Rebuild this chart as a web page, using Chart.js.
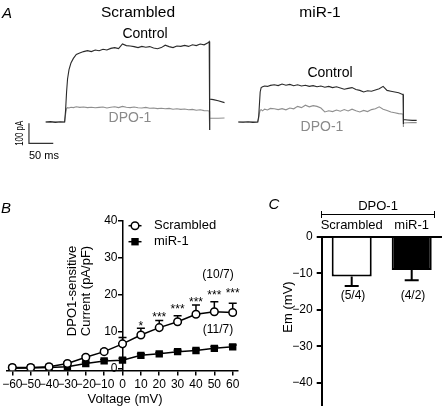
<!DOCTYPE html>
<html>
<head>
<meta charset="utf-8">
<script src="https://cdn.jsdelivr.net/npm/chart.js@4.4.1/dist/chart.umd.min.js"></script>
<style>
  body { margin: 0; background: #fff; }
  #fig { position: relative; width: 443px; height: 416px; overflow: hidden;
         font-family: "Liberation Sans", Arial, sans-serif; color: #000; }
  #fig canvas { position: absolute; }
  .t { position: absolute; white-space: nowrap; line-height: 1; transform: translate(-50%, -50%); }
  .panel { font-style: italic; font-size: 15px; }
  .gray { color: #8a8a8a; }
</style>
</head>
<body>
<div id="fig">
  <canvas id="traceScr" width="230" height="145" style="left:0;top:20px"></canvas>
  <canvas id="traceMir" width="213" height="145" style="left:230px;top:20px"></canvas>
  <canvas id="ivChart" width="250" height="221" style="left:0;top:195px"></canvas>
  <canvas id="emChart" width="188" height="231" style="left:255px;top:185px"></canvas>

  <!-- panel A text -->
  <div class="t panel" style="left:7px;top:12px">A</div>
  <div class="t" style="left:138px;top:12px;font-size:15.5px">Scrambled</div>
  <div class="t" style="left:320px;top:12px;font-size:15.5px">miR-1</div>
  <div class="t" style="left:145px;top:33px;font-size:14px">Control</div>
  <div class="t gray" style="left:130px;top:117px;font-size:14px">DPO-1</div>
  <div class="t" style="left:330px;top:72px;font-size:14px">Control</div>
  <div class="t gray" style="left:322px;top:126px;font-size:14px">DPO-1</div>

  <!-- panel B text -->
  <div class="t panel" style="left:6px;top:207px">B</div>
  <div class="t" style="left:79px;top:291px;font-size:13px;line-height:14px;text-align:center;transform:translate(-50%,-50%) rotate(-90deg)">DPO1-sensitive<br>Current (pA/pF)</div>
  <div class="t" style="left:125px;top:398px;font-size:13px">Voltage (mV)</div>
  <div class="t" style="left:218px;top:274px;font-size:12px">(10/7)</div>
  <div class="t" style="left:218px;top:329px;font-size:12px">(11/7)</div>

  <!-- panel C text -->
  <div class="t panel" style="left:274px;top:203px">C</div>
  <div class="t" style="left:378px;top:205px;font-size:13px">DPO-1</div>
  <div style="position:absolute;left:322px;top:214px;width:113px;height:0;border-top:1.5px solid #000"></div>
  <div style="position:absolute;left:321px;top:211px;width:0;height:7px;border-left:1.5px solid #000"></div>
  <div style="position:absolute;left:434px;top:211px;width:0;height:7px;border-left:1.5px solid #000"></div>
  <div class="t" style="left:287px;top:307px;font-size:13px;transform:translate(-50%,-50%) rotate(-90deg)">Em (mV)</div>
  <div class="t" style="left:353px;top:295px;font-size:12px">(5/4)</div>
  <div class="t" style="left:413px;top:295px;font-size:12px">(4/2)</div>
</div>

<script>
// ---- panel A: current traces (time in ms, current in pA) ----
const scrTime = [0, 10, 20, 30, 39, 41, 43, 45, 48, 52, 57, 63, 70, 78,
  86, 94, 102, 110, 118, 126, 134, 142, 150, 158, 166, 174, 182, 190, 198, 206,
  214, 222, 230, 238, 246, 254, 262, 270, 278, 286, 294, 302, 310, 318, 326, 334,
  336.5, 337, 338, 345, 355, 368];
const scrControl = [0, 2, -2, 1, 0, 60, 150, 215, 262, 295, 318, 338, 345, 352,
  357, 352, 360, 356, 364, 360, 368, 372, 367, 390, 382, 380, 377, 372, 378, 374,
  377, 370, 366, 372, 384, 377, 372, 380, 378, 383, 378, 386, 382, 390, 386, 396,
  402, -40, 115, 112, 106, 97];
const scrDpo = [0, -1, 1, -1, 0, 40, 68, 72, 70, 74, 72, 76, 73, 75,
  72, 74, 71, 73, 75, 70, 74, 76, 72, 78, 74, 72, 75, 71, 70, 73,
  69, 70, 67, 69, 66, 68, 64, 66, 63, 65, 61, 63, 59, 61, 57, 56,
  54, -40, 20, 19, 19, 20];

const mirTime = [0, 10, 20, 30, 40, 42, 43.5, 45, 47, 50, 54, 60, 66,
  74, 82, 90, 98, 106, 114, 122, 130, 138, 146, 154, 162, 170, 178, 186, 194, 202,
  210, 218, 226, 234, 242, 250, 258, 266, 274, 282, 290, 298, 306, 314, 322, 330, 338,
  339, 339.5, 340, 348, 358, 367];
const mirControl = [0, -1, 1, -2, 0, 30, 90, 150, 172, 176, 180, 178, 183,
  186, 182, 190, 184, 188, 181, 186, 180, 184, 178, 182, 176, 180, 174, 178, 172, 176,
  170, 164, 168, 172, 162, 158, 150, 156, 154, 160, 166, 178, 158, 154, 150, 146, 138,
  138, -10, 12, 10, 8, 8];
const mirDpo = [0, 1, -1, 1, 0, 20, 45, 58, 62, 56, 64, 60, 68,
  66, 62, 67, 61, 70, 66, 78, 72, 84, 76, 82, 78, 70, 50, 56, 52, 60,
  54, 62, 55, 64, 56, 50, 58, 52, 62, 66, 76, 64, 58, 50, 46, 42, 40,
  38, -25, -5, -4, -3, -3];

// scale bar: 50 ms x 100 pA
const barMs = 50;
const barPa = 100;
const barAt = { t: -34.4, i: -106.5 };

// ---- panel B: I-V curve ----
const voltages = [-60, -50, -40, -30, -20, -10, 0, 10, 20, 30, 40, 50, 60];
const scrambledIV = [0.3, 0.3, 0.5, 1.4, 3.1, 4.6, 6.7, 9.1, 11.1, 12.7, 14.7, 15.4, 15.2];
const scrambledSem = [0.2, 0.2, 0.2, 0.3, 0.4, 0.6, 1.7, 1.8, 1.9, 1.6, 2.5, 2.7, 2.5];
const mir1IV = [0.1, 0.2, 0.3, 0.5, 1.4, 2.1, 2.3, 3.6, 4.0, 4.6, 4.9, 5.5, 5.9];
const mir1Sem = [0.1, 0.1, 0.1, 0.2, 0.3, 0.4, 0.5, 0.4, 0.4, 0.4, 0.4, 0.5, 0.5];
const starText = ['', '', '', '', '', '', '', '*', '***', '***', '***', '***', '***'];
const starLevel = [0, 0, 0, 0, 0, 0, 0, 12.4, 14.7, 16.9, 18.8, 20.6, 21.3];
const ivTicks = [0, 10, 20, 30, 40];

// ---- panel C: membrane potential ----
const groups = ['Scrambled', 'miR-1'];
const emValues = [-10.9, -9.1];
const emSem = [2.6, 2.8];
const emTicks = [0, -10, -20, -30, -40];

Chart.defaults.font.family = '"Liberation Sans", Arial, sans-serif';
Chart.defaults.color = '#000';
Chart.defaults.animation = false;

const minus = v => String(v).replace('-', '\u2212');
const pts = (xs, ys) => xs.map((x, i) => ({ x: x, y: ys[i] }));

// trace charts have no visible axes, only the scale bar
function traceChart(id, time, control, dpo, xMin, xMax, extra) {
  return new Chart(document.getElementById(id), {
    type: 'line',
    data: {
      datasets: [
        { data: pts(time, control), borderColor: '#2a2a2a', borderWidth: 1.1 },
        { data: pts(time, dpo), borderColor: '#8f8f8f', borderWidth: 1.1 }
      ]
    },
    options: {
      responsive: false,
      layout: { padding: 0 },
      elements: { point: { radius: 0 }, line: { tension: 0 } },
      plugins: { legend: { display: false }, tooltip: { enabled: false } },
      scales: {
        x: { type: 'linear', display: false, min: xMin, max: xMax },
        y: { display: false, min: -215, max: 510 }
      }
    },
    plugins: extra ? [extra] : []
  });
}

const scaleBar = {
  id: 'scaleBar',
  afterDraw(chart) {
    const { ctx, scales: { x, y } } = chart;
    const x0 = x.getPixelForValue(barAt.t), y0 = y.getPixelForValue(barAt.i);
    const x1 = x.getPixelForValue(barAt.t + barMs), y1 = y.getPixelForValue(barAt.i + barPa);
    ctx.save();
    ctx.strokeStyle = '#333';
    ctx.lineWidth = 1.2;
    ctx.beginPath();
    ctx.moveTo(x0, y1); ctx.lineTo(x0, y0); ctx.lineTo(x1, y0);
    ctx.stroke();
    ctx.fillStyle = '#000';
    ctx.font = '11px "Liberation Sans", Arial';
    ctx.textBaseline = 'middle';
    ctx.textAlign = 'left';
    ctx.fillText(barMs + ' ms', x0, y0 + 13);
    ctx.translate(x0 - 8.5, (y0 + y1) / 2);
    ctx.rotate(-Math.PI / 2);
    ctx.scale(0.72, 1);
    ctx.textAlign = 'center';
    ctx.fillText(barPa + ' pA', 0, 0);
    ctx.restore();
  }
};

traceChart('traceScr', scrTime, scrControl, scrDpo, -94, 379.3, scaleBar);
traceChart('traceMir', mirTime, mirControl, mirDpo, -17.1, 421.2);

// error bars, significance stars and legend for the I-V plot
const ivExtras = {
  id: 'ivExtras',
  beforeDatasetsDraw(chart) {
    const { ctx, scales: { x, y } } = chart;
    ctx.save();
    ctx.strokeStyle = '#000';
    ctx.lineWidth = 1.5;
    chart.data.datasets.forEach(ds => {
      ds.data.forEach((p, i) => {
        const px = x.getPixelForValue(p.x);
        const top = y.getPixelForValue(p.y + ds.sem[i]);
        ctx.beginPath();
        ctx.moveTo(px, y.getPixelForValue(p.y));
        ctx.lineTo(px, top);
        ctx.moveTo(px - 4, top);
        ctx.lineTo(px + 4, top);
        ctx.stroke();
      });
    });
    ctx.restore();
  },
  afterDraw(chart) {
    const { ctx, scales: { x, y }, chartArea } = chart;
    ctx.save();
    ctx.fillStyle = '#000';
    ctx.font = '12px "Liberation Sans", Arial';
    ctx.textAlign = 'center';
    ctx.textBaseline = 'alphabetic';
    voltages.forEach((v, i) => {
      if (starText[i]) ctx.fillText(starText[i], x.getPixelForValue(v), y.getPixelForValue(starLevel[i]) + 7);
    });

    // y tick labels sit left of the axis drawn at 0 mV
    const ax = x.getPixelForValue(0);
    ctx.textAlign = 'right';
    ctx.textBaseline = 'middle';
    ivTicks.forEach(v => ctx.fillText(String(v), ax - 5, y.getPixelForValue(v)));

    // legend
    const lx = ax + 12.5;
    ctx.font = '13px "Liberation Sans", Arial';
    ctx.textAlign = 'left';
    chart.data.datasets.forEach((ds, k) => {
      const ly = chartArea.top + 5 + k * 16;
      ctx.strokeStyle = '#000';
      ctx.lineWidth = 1.5;
      ctx.beginPath();
      ctx.moveTo(lx - 6.5, ly); ctx.lineTo(lx + 6.5, ly);
      ctx.stroke();
      if (ds.pointStyle === 'rect') {
        ctx.fillStyle = '#000';
        ctx.fillRect(lx - 3.7, ly - 3.7, 7.4, 7.4);
      } else {
        ctx.fillStyle = '#fff';
        ctx.beginPath();
        ctx.arc(lx, ly, 3.8, 0, Math.PI * 2);
        ctx.fill();
        ctx.stroke();
      }
      ctx.fillStyle = '#000';
      ctx.fillText(ds.label, lx + 19, ly);
    });
    ctx.restore();
  }
};

new Chart(document.getElementById('ivChart'), {
  type: 'line',
  data: {
    datasets: [
      {
        label: 'Scrambled', data: pts(voltages, scrambledIV), sem: scrambledSem,
        borderColor: '#000', borderWidth: 1.5, pointStyle: 'circle', pointRadius: 3.8,
        pointBackgroundColor: '#fff', pointBorderColor: '#000', pointBorderWidth: 1.5
      },
      {
        label: 'miR-1', data: pts(voltages, mir1IV), sem: mir1Sem,
        borderColor: '#000', borderWidth: 1.5, pointStyle: 'rect', pointRadius: 5.2,
        pointBackgroundColor: '#000', pointBorderColor: '#000', pointBorderWidth: 0
      }
    ]
  },
  options: {
    responsive: false,
    layout: { padding: { left: 5.15, right: 12.7, top: 25.7, bottom: 0 } },
    elements: { line: { tension: 0 } },
    plugins: { legend: { display: false }, tooltip: { enabled: false } },
    scales: {
      x: {
        type: 'linear', min: -63, max: 62.5,
        afterBuildTicks: s => { s.ticks = voltages.map(v => ({ value: v })); },
        afterFit: s => { s.height = 45.5; },
        grid: { drawOnChartArea: false, drawTicks: true, tickLength: 5, color: '#000', lineWidth: 1.5 },
        border: { color: '#000', width: 1.5 },
        ticks: { font: { size: 12 }, padding: 2, maxRotation: 0, autoSkip: false, callback: v => minus(v) }
      },
      y: {
        position: { x: 0 }, min: -0.5, max: 40,
        afterBuildTicks: s => { s.ticks = ivTicks.map(v => ({ value: v })); },
        grid: { drawOnChartArea: false, drawTicks: true, tickLength: 4, color: '#000', lineWidth: 1.5 },
        border: { color: '#000', width: 1.5 },
        ticks: { display: false }
      }
    }
  },
  plugins: [ivExtras]
});

// downward error bars for the Em bars
const emErrors = {
  id: 'emErrors',
  afterDatasetsDraw(chart) {
    const { ctx, scales: { x, y } } = chart;
    ctx.save();
    ctx.strokeStyle = '#000';
    ctx.lineWidth = 2;
    emValues.forEach((v, i) => {
      const px = x.getPixelForValue(i);
      const low = y.getPixelForValue(v - emSem[i]);
      ctx.beginPath();
      ctx.moveTo(px, y.getPixelForValue(v));
      ctx.lineTo(px, low);
      ctx.moveTo(px - 7, low);
      ctx.lineTo(px + 7, low);
      ctx.stroke();
    });
    ctx.restore();
  }
};

new Chart(document.getElementById('emChart'), {
  type: 'bar',
  data: {
    labels: groups,
    datasets: [{
      data: emValues,
      backgroundColor: ['#fff', '#000'],
      borderColor: '#000',
      borderWidth: 2,
      borderSkipped: 'start',
      barPercentage: 0.8,
      categoryPercentage: 0.834
    }]
  },
  options: {
    responsive: false,
    layout: { padding: { left: 30.7, right: 1.3, top: 31.7, bottom: 0 } },
    plugins: { legend: { display: false }, tooltip: { enabled: false } },
    scales: {
      x: {
        position: 'top',
        afterFit: s => { s.height = 20; },
        grid: { display: false, drawTicks: false },
        border: { color: '#000', width: 2 },
        ticks: { font: { size: 13 }, padding: 3, maxRotation: 0, minRotation: 0, autoSkip: false }
      },
      y: {
        min: -46, max: 0,
        afterBuildTicks: s => { s.ticks = emTicks.map(v => ({ value: v })); },
        afterFit: s => { s.width = 36; },
        grid: { drawOnChartArea: false, drawTicks: true, tickLength: 5, color: '#000', lineWidth: 2 },
        border: { color: '#000', width: 2 },
        ticks: { font: { size: 12 }, padding: 4, callback: v => minus(v) }
      }
    }
  },
  plugins: [emErrors]
});
</script>
</body>
</html>
